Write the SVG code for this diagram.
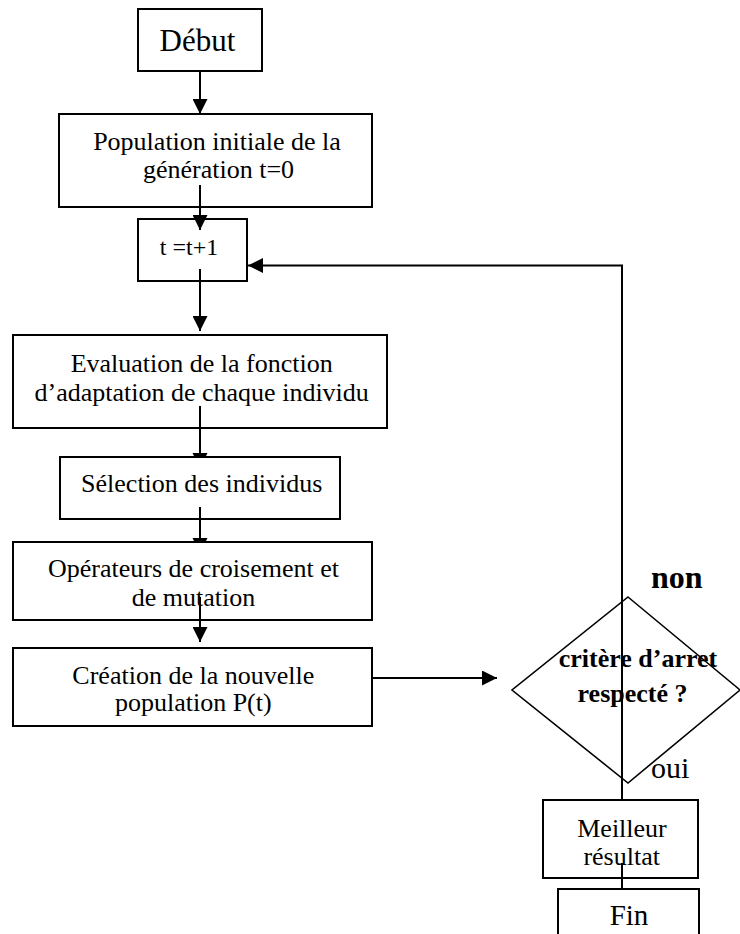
<svg xmlns="http://www.w3.org/2000/svg" width="740" height="934" viewBox="0 0 740 934">
  <style>
    .box { fill: #ffffff; stroke: #000000; stroke-width: 2; }
    .dia { fill: none; stroke: #000000; stroke-width: 1.6; }
    .ln { fill: none; stroke: #000000; stroke-width: 2; }
    .hd { fill: #000000; stroke: none; }
    text { font-family: "Liberation Serif", "Times New Roman", serif; fill: #000000; }
    .t26 { font-size: 26px; text-anchor: middle; }
    .b26 { font-size: 26px; font-weight: bold; text-anchor: middle; }
  </style>
  <defs>
    <marker id="arrow" markerUnits="userSpaceOnUse" markerWidth="15" markerHeight="15" refX="15" refY="7.5" orient="auto">
      <path d="M0,0 L15,7.5 L0,15 Z" fill="#000000"/>
    </marker>
  </defs>

  <!-- process boxes -->
  <g id="debut">
    <rect class="box" x="138" y="9" width="124" height="62"/>
    <text x="197.5" y="50.7" style="font-size:31px;text-anchor:middle">Début</text>
  </g>
  <g id="population-initiale">
    <rect class="box" x="59" y="114" width="313" height="93"/>
    <text class="t26" x="217" y="150">Population initiale de la</text>
    <text class="t26" x="218.5" y="178">génération t=0</text>
  </g>
  <g id="increment">
    <rect class="box" x="138" y="219" width="109" height="62"/>
    <text x="189" y="255" style="font-size:24px;text-anchor:middle">t =t+1</text>
  </g>
  <g id="evaluation">
    <rect class="box" x="13" y="335" width="374" height="93"/>
    <text class="t26" x="201.7" y="371.7">Evaluation de la fonction</text>
    <text class="t26" x="201.7" y="400.7">d’adaptation de chaque individu</text>
  </g>
  <g id="selection">
    <rect class="box" x="60" y="457" width="280" height="62"/>
    <text class="t26" x="201.7" y="492.3">Sélection des individus</text>
  </g>
  <g id="operateurs">
    <rect class="box" x="13" y="542" width="359" height="78"/>
    <text class="t26" x="193.5" y="576.7">Opérateurs de croisement et</text>
    <text class="t26" x="193.5" y="606">de mutation</text>
  </g>
  <g id="creation">
    <rect class="box" x="13" y="648" width="359" height="78"/>
    <text class="t26" x="193.3" y="684">Création de la nouvelle</text>
    <text class="t26" x="193.3" y="711">population P(t)</text>
  </g>

  <!-- stop test -->
  <g id="critere">
    <polygon class="dia" points="628,597 740,690 628,783 512,690"/>
    <text class="b26" x="638" y="667">critère d’arret</text>
    <text class="b26" x="632.5" y="702">respecté ?</text>
  </g>
  <g id="label-non">
    <text x="651" y="588" style="font-size:32px;font-weight:bold">non</text>
  </g>
  <g id="label-oui">
    <text x="651" y="778" style="font-size:30px">oui</text>
  </g>

  <g id="meilleur">
    <rect class="box" x="543" y="800" width="155" height="78"/>
    <text class="t26" x="622" y="836.7">Meilleur</text>
    <text class="t26" x="621.7" y="865">résultat</text>
  </g>
  <g id="fin">
    <rect class="box" x="558" y="889" width="141" height="60"/>
    <text x="629" y="925" style="font-size:29px;text-anchor:middle">Fin</text>
  </g>

  <!-- connectors -->
  <g id="connectors">
    <line class="ln" x1="200" y1="71" x2="200" y2="114" marker-end="url(#arrow)"/>
    <line class="ln" x1="200" y1="185" x2="200" y2="230" marker-end="url(#arrow)"/>
    <line class="ln" x1="200" y1="269" x2="200" y2="331" marker-end="url(#arrow)"/>
    <!-- heads partly hidden under the next box -->
    <line class="ln" x1="200" y1="406" x2="200" y2="457"/>
    <polygon class="hd" points="192.5,453 207.5,453 205.5,457 194.5,457"/>
    <line class="ln" x1="200" y1="507" x2="200" y2="542"/>
    <polygon class="hd" points="192.5,538 207.5,538 205.5,542 194.5,542"/>
    <line class="ln" x1="200" y1="597" x2="200" y2="642" marker-end="url(#arrow)"/>
    <line class="ln" x1="372" y1="678" x2="497" y2="678" marker-end="url(#arrow)"/>
    <!-- loop back to the increment -->
    <polyline class="ln" points="622,800 622,265.5 248,265.5" marker-end="url(#arrow)"/>
    <line class="ln" x1="622" y1="863" x2="622" y2="889"/>
  </g>
</svg>
